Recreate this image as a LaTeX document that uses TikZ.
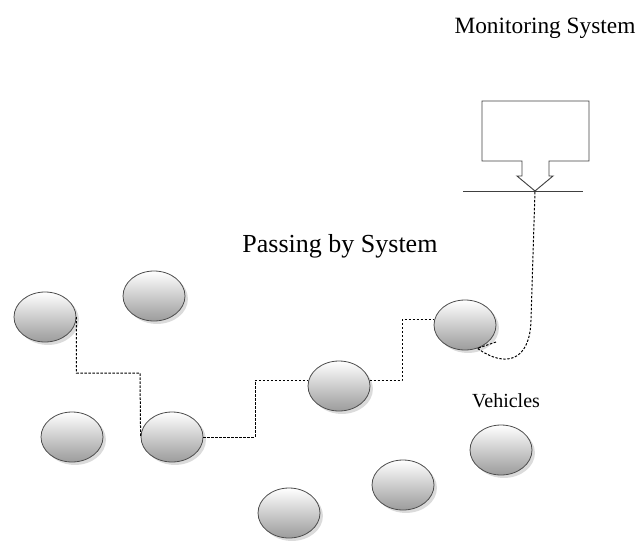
\documentclass[tikz,border=0pt]{standalone}
\usepackage{fontspec}
\setmainfont{Liberation Serif}
\usetikzlibrary{shapes.geometric,shadows}
\tikzset{
  vehicle/.style={ellipse, draw=gray!60!black, line width=0.6pt,
    minimum width=46.5pt, minimum height=37.5pt, inner sep=0pt,
    top color=white, bottom color=gray!78,
    drop shadow={shadow xshift=2.2pt, shadow yshift=-2.2pt, fill=gray!35, opacity=0.8}},
  link/.style={line width=0.75pt, dash pattern=on 1.8pt off 1.2pt},
  outline/.style={line width=0.7pt, draw=black!75},
}
\begin{document}
\begin{tikzpicture}[x=0.75pt, y=-0.75pt]
  \useasboundingbox (0,0) rectangle (641,543);

  % Labels
  \node (lblMonitor) at (545,28) {\fontsize{17.5}{20}\selectfont Monitoring System};
  \node (lblPassing) at (340,246) {\fontsize{19.5}{22}\selectfont Passing by System};
  \node (lblVehicles) at (506,401) {\fontsize{15}{18}\selectfont Vehicles};

  % Monitoring system box with arrow
  \draw [outline] (482,101) -- (589,101) -- (589,161) -- (549,161) -- (549,176)
    -- (553,176) -- (535,191) -- (517,176) -- (522,176) -- (522,161)
    -- (482,161) -- cycle;
  \coordinate (msTip) at (535,191);
  \draw [outline] (463,191) -- (583,191);

  % Vehicles
  \node [vehicle] (v1) at (45,317) {};
  \node [vehicle] (v2) at (154,296) {};
  \node [vehicle] (v3) at (72,437) {};
  \node [vehicle] (v4) at (172,437) {};
  \node [vehicle] (v5) at (339,386) {};
  \node [vehicle] (v6) at (465,325) {};
  \node [vehicle] (v7) at (289,513) {};
  \node [vehicle] (v8) at (403,485) {};
  \node [vehicle] (v9) at (501,450) {};

  % Passing-by chain
  \draw [link] (v1.east) |- (140,373) -- (v4.west);
  \draw [link] (v4.east) -| (v5.170 -| 255,0) -- (v5.170);
  \draw [link] (v5.10) -| (v6.170 -| 402,0) -- (v6.170);

  % Link to monitoring system
  \coordinate (v6out) at (496,342);
  \draw [link] (v6out) -- (v6.-62) .. controls (505,368) and (530,362) .. (531,320) -- (msTip);
\end{tikzpicture}
\end{document}
